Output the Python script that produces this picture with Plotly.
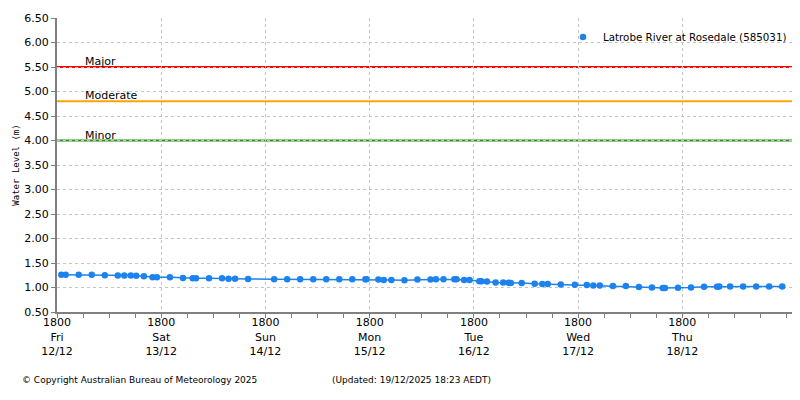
"""Latrobe River at Rosedale water level chart"""
import plotly.graph_objects as go

station = "Latrobe River at Rosedale (585031)"

times = [
    "2025-12-12 19:00", "2025-12-12 20:00", "2025-12-12 23:00",
    "2025-12-13 02:00", "2025-12-13 05:00", "2025-12-13 08:00", "2025-12-13 09:30",
    "2025-12-13 11:00", "2025-12-13 12:15", "2025-12-13 14:00", "2025-12-13 16:00",
    "2025-12-13 17:00", "2025-12-13 20:00", "2025-12-13 23:00",
    "2025-12-14 01:15", "2025-12-14 02:00", "2025-12-14 05:00", "2025-12-14 08:00",
    "2025-12-14 09:30", "2025-12-14 11:00", "2025-12-14 14:00", "2025-12-14 20:00",
    "2025-12-14 23:00",
    "2025-12-15 02:00", "2025-12-15 05:00", "2025-12-15 08:00", "2025-12-15 11:00",
    "2025-12-15 14:00", "2025-12-15 17:00", "2025-12-15 17:15", "2025-12-15 20:00",
    "2025-12-15 21:15", "2025-12-15 23:00",
    "2025-12-16 02:00", "2025-12-16 05:00", "2025-12-16 08:00", "2025-12-16 09:15",
    "2025-12-16 11:00", "2025-12-16 13:30", "2025-12-16 14:00", "2025-12-16 15:45",
    "2025-12-16 17:00", "2025-12-16 19:15", "2025-12-16 19:45", "2025-12-16 21:00",
    "2025-12-16 23:00",
    "2025-12-17 00:45", "2025-12-17 02:00", "2025-12-17 02:30", "2025-12-17 05:00",
    "2025-12-17 08:00", "2025-12-17 09:45", "2025-12-17 11:00", "2025-12-17 14:00",
    "2025-12-17 17:15", "2025-12-17 20:00", "2025-12-17 21:30", "2025-12-17 23:00",
    "2025-12-18 02:00", "2025-12-18 05:00", "2025-12-18 08:00", "2025-12-18 11:00",
    "2025-12-18 13:30", "2025-12-18 14:00", "2025-12-18 17:00", "2025-12-18 20:00",
    "2025-12-18 23:00",
    "2025-12-19 02:00", "2025-12-19 02:30", "2025-12-19 05:00", "2025-12-19 08:00",
    "2025-12-19 11:00", "2025-12-19 14:00", "2025-12-19 17:00",
]

levels = [
    1.26, 1.26, 1.26,
    1.26, 1.25, 1.245, 1.245,
    1.245, 1.24, 1.23, 1.21,
    1.21, 1.21, 1.195,
    1.19, 1.19, 1.19, 1.19,
    1.18, 1.18, 1.175, 1.17,
    1.17,
    1.17, 1.17, 1.17, 1.17,
    1.17, 1.17, 1.17, 1.165,
    1.155, 1.155,
    1.15, 1.165, 1.165, 1.17,
    1.17, 1.17, 1.17, 1.155,
    1.155, 1.13, 1.13, 1.12,
    1.10,
    1.10, 1.095, 1.09, 1.09,
    1.075, 1.07, 1.07, 1.06,
    1.055, 1.05, 1.04, 1.04,
    1.03, 1.03, 1.01, 1.0,
    0.99, 0.99, 0.995, 1.0,
    1.015,
    1.015, 1.02, 1.02, 1.02,
    1.02, 1.02, 1.02,
]

flood_names = ["Major", "Moderate", "Minor"]
flood_levels = [5.50, 4.80, 4.00]
flood_colors = ["#ff0000", "#ffa500", "#2e8b1e"]

tick_times = ["2025-12-12 18:00", "2025-12-13 18:00", "2025-12-14 18:00",
              "2025-12-15 18:00", "2025-12-16 18:00", "2025-12-17 18:00",
              "2025-12-18 18:00"]
tick_days = ["Fri", "Sat", "Sun", "Mon", "Tue", "Wed", "Thu"]
tick_dates = ["12/12", "13/12", "14/12", "15/12", "16/12", "17/12", "18/12"]

BLUE = "#1c82ee"
GRID = "#c4c4c4"
FONT = "DejaVu Sans"

fig = go.Figure()

for name, lvl, col in zip(flood_names, flood_levels, flood_colors):
    fig.add_hline(y=lvl, line_color=col, line_width=2, layer="below")
    fig.add_annotation(x=0.036, xref="paper", y=lvl, yref="y", text=name,
                       showarrow=False, xanchor="left", yanchor="bottom", yshift=-3,
                       font=dict(family=FONT, size=11, color="#000"))

fig.add_trace(go.Scatter(
    x=times, y=levels, mode="lines+markers", name=station, showlegend=False,
    line=dict(color=BLUE, width=1.5),
    marker=dict(color=BLUE, size=6.5, symbol="circle"),
))
# legend entry shows just the dot, as on the original
fig.add_trace(go.Scatter(
    x=[None], y=[None], mode="markers", name=station,
    marker=dict(color=BLUE, size=6.5, symbol="circle"),
))

fig.add_annotation(x=-0.05, xref="paper", y=-0.231, yref="paper",
                   text="© Copyright Australian Bureau of Meteorology 2025",
                   showarrow=False, xanchor="left", yanchor="middle",
                   font=dict(family=FONT, size=9, color="#000"))
fig.add_annotation(x=0.371, xref="paper", y=-0.231, yref="paper",
                   text="(Updated: 19/12/2025 18:23 AEDT)",
                   showarrow=False, xanchor="left", yanchor="middle",
                   font=dict(family=FONT, size=9, color="#000"))

# the page body adds 8px on the left and top, so margins are trimmed by 8
fig.update_layout(
    width=800, height=400,
    margin=dict(l=49, r=16, t=10, b=96),
    paper_bgcolor="white", plot_bgcolor="white",
    font=dict(family=FONT, size=11, color="#000"),
    showlegend=True,
    legend=dict(x=1.0, xanchor="right", y=0.985, yanchor="top",
                bgcolor="rgba(0,0,0,0)", font=dict(family=FONT, size=10.3),
                itemwidth=30),
    xaxis=dict(
        range=["2025-12-12 18:00", "2025-12-19 19:15"],
        tickvals=tick_times,
        ticktext=[f"1800<br>{d}<br>{dt}" for d, dt in zip(tick_days, tick_dates)],
        showgrid=True, gridcolor=GRID, griddash="3px,3px", gridwidth=1,
        showline=True, linecolor="#808080", linewidth=2,
        ticks="outside", ticklen=4, tickcolor="#808080",
        ticklabelstandoff=-5,
        minor=dict(dtick=6 * 3600 * 1000, tick0="2025-12-12 18:00",
                   ticks="outside", ticklen=4, tickcolor="#808080", showgrid=False),
        zeroline=False, automargin=False,
    ),
    yaxis=dict(
        range=[0.5, 6.5], dtick=0.5, tick0=0.5, tickformat=".2f",
        title=dict(text="Water Level (m)", standoff=3,
                   font=dict(family="DejaVu Sans Mono", size=9)),
        showgrid=True, gridcolor=GRID, griddash="3px,3px", gridwidth=1,
        showline=True, linecolor="#808080", linewidth=2, mirror=True,
        ticks="outside", ticklen=4, tickcolor="#808080",
        zeroline=False, automargin=False,
    ),
)

fig.write_html("out.html")
